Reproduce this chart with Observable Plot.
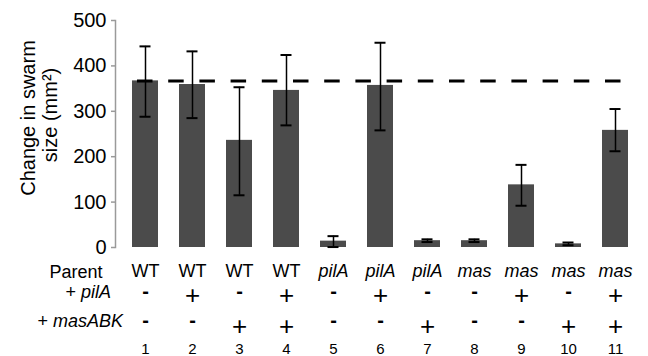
<!DOCTYPE html>
<html>
<head>
<meta charset="utf-8">
<script src="https://cdn.jsdelivr.net/npm/d3@7"></script>
<script src="https://cdn.jsdelivr.net/npm/@observablehq/plot@0.6"></script>
<style>
  html, body { margin: 0; padding: 0; background: #fff; }
  #chart svg { font-family: "Liberation Sans", Arial, Helvetica, sans-serif; }
</style>
</head>
<body>
<div id="chart"></div>
<script>
// lanes and genotypes
const lanes = ["1","2","3","4","5","6","7","8","9","10","11"];
const parents = ["WT","WT","WT","WT","pilA","pilA","pilA","mas","mas","mas","mas"];
const addPilA = ["-","+","-","+","-","+","-","-","+","-","+"];
const addMasABK = ["-","-","+","+","-","-","+","-","-","+","+"];
// change in swarm size (mm^2)
const means = [367, 359, 236, 346, 14, 357, 15, 15, 138, 8, 258];
const errLow = [288, 285, 115, 269, 1, 258, 12, 12, 92, 5, 212];
const errHigh = [443, 432, 353, 424, 25, 451, 18, 18, 182, 11, 305];
const referenceLevel = [367];
const yTicks = [0, 100, 200, 300, 400, 500];
const yLabelLines = ["Change in swarm", "size (mm\u00B2)"];
const rowLabels = ["Parent", "+ ", "pilA", "+ ", "masABK"];

const rows = lanes.map((lane, i) => ({
  lane, parent: parents[i], pilA: addPilA[i], mas: addMasABK[i],
  mean: means[i], lo: errLow[i], hi: errHigh[i]
}));

const font = "Liberation Sans, Arial, sans-serif";

const chart = Plot.plot({
  width: 648,
  height: 356,
  marginLeft: 115,
  marginRight: 4,
  marginTop: 20,
  marginBottom: 109,
  style: { fontFamily: font, color: "#000", background: "#fff" },
  x: { domain: lanes, axis: null, paddingInner: 0.45, paddingOuter: 0.317 },
  y: { domain: [0, 500], axis: null },
  marks: [
    Plot.frame({ anchor: "left", stroke: "#9a9a9a", strokeWidth: 1.5 }),
    Plot.axisY({ ticks: yTicks, tickSize: 4, tickPadding: 5, fontSize: 20, stroke: "#9a9a9a", fill: "#000", label: null, strokeWidth: 1.5 }),
    Plot.barY(rows, { x: "lane", y: "mean", fill: "#4b4b4b" }),
    Plot.ruleY(referenceLevel, { stroke: "#000", strokeWidth: 3, strokeDasharray: "15.5,15.7", insetLeft: 22, insetRight: 23 }),
    Plot.ruleX(rows, { x: "lane", y1: "lo", y2: "hi", stroke: "#000", strokeWidth: 1.5 }),
    Plot.tickY(rows, { x: "lane", y: "hi", stroke: "#000", strokeWidth: 2, insetLeft: 7.5, insetRight: 7.5 }),
    Plot.tickY(rows, { x: "lane", y: "lo", stroke: "#000", strokeWidth: 2, insetLeft: 7.5, insetRight: 7.5 }),
    // y label (two lines, rotated)
    Plot.text([yLabelLines[0]], { frameAnchor: "left", rotate: -90, dx: -80.5, dy: -16, lineAnchor: "bottom", textAnchor: "middle", fontSize: 20, fill: "#000" }),
    Plot.text([yLabelLines[1]], { frameAnchor: "left", rotate: -90, dx: -59, dy: -19, lineAnchor: "bottom", textAnchor: "middle", fontSize: 20, fill: "#000" }),
    // row labels
    Plot.text([rowLabels[0]], { frameAnchor: "bottom-left", dx: -66, dy: 30, textAnchor: "start", lineAnchor: "bottom", fontSize: 18, fill: "#000" }),
    Plot.text([rowLabels[1]], { frameAnchor: "bottom-left", dx: -50, dy: 50.5, textAnchor: "start", lineAnchor: "bottom", fontSize: 18, fill: "#000" }),
    Plot.text([rowLabels[2]], { frameAnchor: "bottom-left", dx: -34.5, dy: 50.5, textAnchor: "start", lineAnchor: "bottom", fontSize: 18, fontStyle: "italic", fill: "#000" }),
    Plot.text([rowLabels[3]], { frameAnchor: "bottom-left", dx: -78, dy: 79, textAnchor: "start", lineAnchor: "bottom", fontSize: 18, fill: "#000" }),
    Plot.text([rowLabels[4]], { frameAnchor: "bottom-left", dx: -62.5, dy: 79, textAnchor: "start", lineAnchor: "bottom", fontSize: 18, fontStyle: "italic", fill: "#000" }),
    // parent row
    Plot.text(rows.filter(d => d.parent === "WT"), { x: "lane", text: "parent", frameAnchor: "bottom", dy: 29.5, lineAnchor: "bottom", fontSize: 18, fill: "#000" }),
    Plot.text(rows.filter(d => d.parent !== "WT"), { x: "lane", text: "parent", frameAnchor: "bottom", dy: 29.5, lineAnchor: "bottom", fontSize: 18, fontStyle: "italic", fill: "#000" }),
    // + pilA row
    Plot.text(rows.filter(d => d.pilA === "+"), { x: "lane", text: "pilA", frameAnchor: "bottom", dy: 56, lineAnchor: "bottom", fontSize: 26, fill: "#000" }),
    Plot.text(rows.filter(d => d.pilA === "-"), { x: "lane", text: "pilA", frameAnchor: "bottom", dy: 50.5, lineAnchor: "bottom", fontSize: 20, fontWeight: "bold", fill: "#000" }),
    // + masABK row
    Plot.text(rows.filter(d => d.mas === "+"), { x: "lane", text: "mas", frameAnchor: "bottom", dy: 87.5, lineAnchor: "bottom", fontSize: 26, fill: "#000" }),
    Plot.text(rows.filter(d => d.mas === "-"), { x: "lane", text: "mas", frameAnchor: "bottom", dy: 79.5, lineAnchor: "bottom", fontSize: 20, fontWeight: "bold", fill: "#000" }),
    // lane numbers
    Plot.text(rows, { x: "lane", text: "lane", frameAnchor: "bottom", dy: 106.5, lineAnchor: "bottom", fontSize: 15, fill: "#000" })
  ]
});
document.getElementById("chart").appendChild(chart);
</script>
</body>
</html>
